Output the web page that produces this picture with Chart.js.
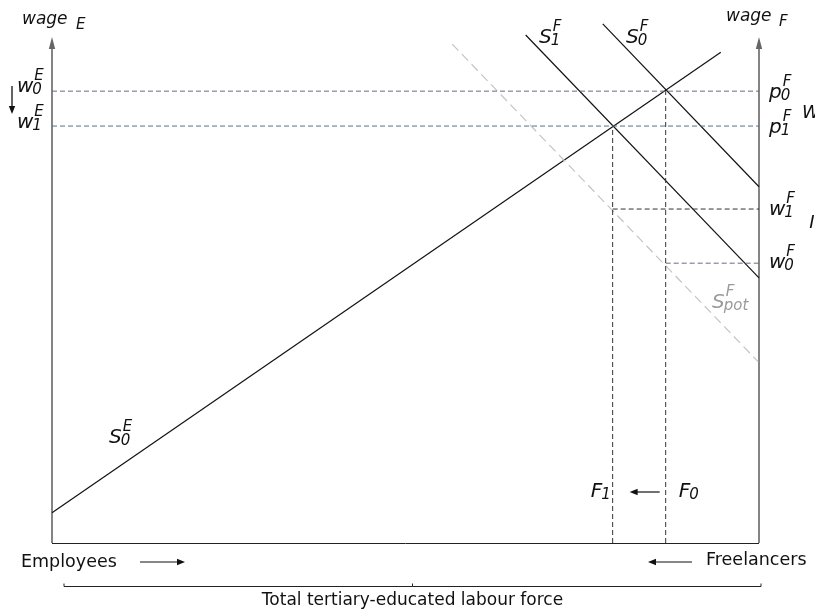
<!DOCTYPE html>
<html>
<head>
<meta charset="utf-8">
<script src="https://cdn.jsdelivr.net/npm/chart.js@4.4.1/dist/chart.umd.min.js"></script>
<style>
  html, body { margin: 0; padding: 0; background: #fff; }
  #wrap { width: 815px; height: 611px; }
</style>
</head>
<body>
<div id="wrap"><canvas id="c" width="815" height="611"></canvas></div>
<script>
// Labour market split: employees (left axis) vs freelancers (right axis).
// Units are abstract: x = share of labour force (0-100), y = wage level (0-100).
var employeeSupply0   = [{ x: 0, y: 6.0 }, { x: 94.6, y: 97.0 }];      // S0^E
var freelanceSupply0  = [{ x: 77.9, y: 102.6 }, { x: 100, y: 70.4 }];  // S0^F
var freelanceSupply1  = [{ x: 67.0, y: 100.4 }, { x: 100, y: 52.4 }];  // S1^F
var freelancePotential = [{ x: 56.6, y: 98.6 }, { x: 99.9, y: 35.8 }]; // S_pot^F
var freelancerCounts  = [86.8, 79.3];  // F0, F1
var priceLevels       = [89.3, 82.4];  // w0^E = p0^F, w1^E = p1^F
var freelanceWages    = [55.3, 66.0];  // w0^F, w1^F

var FONT = '"DejaVu Sans"';
var BLUE_DASH = '#5f6d84';
var DARK_DASH = '#333333';

function seg(a, b) { return [a, b]; }

function lineSet(data, color, width, dash) {
  return {
    data: data, showLine: true, borderColor: color, borderWidth: width,
    borderDash: dash || [], pointRadius: 0, clip: false, fill: false
  };
}

var datasets = [
  // equilibrium guides
  lineSet(seg({ x: 0, y: priceLevels[0] }, { x: 100, y: priceLevels[0] }), BLUE_DASH, 1, [5, 3]),
  lineSet(seg({ x: 0, y: priceLevels[1] }, { x: 100, y: priceLevels[1] }), BLUE_DASH, 1, [5, 3]),
  lineSet(seg({ x: freelancerCounts[0], y: 0 }, { x: freelancerCounts[0], y: priceLevels[0] }), DARK_DASH, 1, [5, 3]),
  lineSet(seg({ x: freelancerCounts[1], y: 0 }, { x: freelancerCounts[1], y: priceLevels[1] }), DARK_DASH, 1, [5, 3]),
  lineSet(seg({ x: freelancerCounts[0], y: freelanceWages[0] }, { x: 100, y: freelanceWages[0] }), BLUE_DASH, 1, [5, 3]),
  lineSet(seg({ x: freelancerCounts[1], y: freelanceWages[1] }, { x: 100, y: freelanceWages[1] }), DARK_DASH, 1, [5, 3]),
  // supply curves
  lineSet(freelancePotential, '#c4c4c4', 1.2, [9, 5]),
  lineSet(employeeSupply0, '#111', 1.2),
  lineSet(freelanceSupply0, '#111', 1.2),
  lineSet(freelanceSupply1, '#111', 1.2)
];

function arrow(ctx, x1, y1, x2, y2, color, head, lw) {
  var ang = Math.atan2(y2 - y1, x2 - x1);
  head = head || 8;
  ctx.save();
  ctx.strokeStyle = color; ctx.fillStyle = color; ctx.lineWidth = lw || 1.2;
  ctx.beginPath();
  ctx.moveTo(x1, y1);
  ctx.lineTo(x2 - Math.cos(ang) * head * 0.8, y2 - Math.sin(ang) * head * 0.8);
  ctx.stroke();
  ctx.beginPath();
  ctx.moveTo(x2, y2);
  ctx.lineTo(x2 - head * Math.cos(ang) + 3.2 * Math.sin(ang), y2 - head * Math.sin(ang) - 3.2 * Math.cos(ang));
  ctx.lineTo(x2 - head * Math.cos(ang) - 3.2 * Math.sin(ang), y2 - head * Math.sin(ang) + 3.2 * Math.cos(ang));
  ctx.closePath();
  ctx.fill();
  ctx.restore();
}

// base symbol with superscript / subscript, x = left edge, y = baseline
function sym(ctx, base, sup, sub, x, y, color, size) {
  size = size || 20;
  ctx.fillStyle = color || '#111';
  ctx.textAlign = 'left';
  ctx.textBaseline = 'alphabetic';
  ctx.font = 'oblique ' + size + 'px ' + FONT;
  ctx.fillText(base, x, y);
  var w = ctx.measureText(base).width;
  ctx.font = 'oblique ' + Math.round(size * 0.75) + 'px ' + FONT;
  if (sup) ctx.fillText(sup, x + w + 1, y - 12);
  if (sub) ctx.fillText(sub, x + w - 1, y + 2);
}

function plain(ctx, text, x, y, size, align) {
  ctx.fillStyle = '#111';
  ctx.textAlign = align || 'left';
  ctx.textBaseline = 'alphabetic';
  ctx.font = size + 'px ' + FONT;
  ctx.fillText(text, x, y);
}

var decor = {
  id: 'decor',
  beforeDatasetsDraw: function (chart) {
    var ctx = chart.ctx, xs = chart.scales.x, ys = chart.scales.y;
    var L = xs.getPixelForValue(0), R = xs.getPixelForValue(100);
    var B = ys.getPixelForValue(0), T = ys.getPixelForValue(100);
    ctx.save();
    // bottom axis
    ctx.strokeStyle = '#222'; ctx.lineWidth = 1;
    ctx.beginPath(); ctx.moveTo(L, B + 0.5); ctx.lineTo(R, B + 0.5); ctx.stroke();
    ctx.restore();
    // vertical wage axes with arrowheads
    arrow(ctx, L, B, L, T, '#666', 12, 1.6);
    arrow(ctx, R, B, R, T, '#666', 12, 1.6);
  },
  afterDatasetsDraw: function (chart) {
    var ctx = chart.ctx, xs = chart.scales.x, ys = chart.scales.y;
    var L = xs.getPixelForValue(0), R = xs.getPixelForValue(100);
    var f0 = xs.getPixelForValue(freelancerCounts[0]);
    var f1 = xs.getPixelForValue(freelancerCounts[1]);
    ctx.save();

    // axis titles
    ctx.fillStyle = '#111';
    ctx.font = 'oblique 17px ' + FONT;
    ctx.fillText('wage', 22, 24);
    ctx.fillText('wage', 726, 21);
    ctx.font = 'oblique 15px ' + FONT;
    ctx.fillText('E', 76, 29);
    ctx.fillText('F', 779, 26);

    // left axis wage labels + downward shift arrow
    sym(ctx, 'w', 'E', '0', L - 35, ys.getPixelForValue(priceLevels[0]) + 1);
    sym(ctx, 'w', 'E', '1', L - 35, ys.getPixelForValue(priceLevels[1]) + 2);
    arrow(ctx, 12, 86, 12, 114, '#111', 8, 1.3);

    // right axis labels
    sym(ctx, 'p', 'F', '0', R + 10, ys.getPixelForValue(priceLevels[0]) + 7);
    sym(ctx, 'p', 'F', '1', R + 10, ys.getPixelForValue(priceLevels[1]) + 7);
    sym(ctx, 'w', 'F', '1', R + 10, ys.getPixelForValue(freelanceWages[1]) + 6);
    sym(ctx, 'w', 'F', '0', R + 10, ys.getPixelForValue(freelanceWages[0]) + 5);

    // curve labels
    sym(ctx, 'S', 'F', '1', 539, 43);
    sym(ctx, 'S', 'F', '0', 626, 43);
    sym(ctx, 'S', 'F', 'pot', 712, 308, '#9a9a9a');
    sym(ctx, 'S', 'E', '0', 109, 443);

    // freelancer counts
    sym(ctx, 'F', null, '1', f1 - 22, 497);
    sym(ctx, 'F', null, '0', f0 + 13, 497);
    arrow(ctx, f0 - 6, 492, f1 + 17, 492, '#111', 8, 1.2);

    // bottom direction labels
    plain(ctx, 'Employees', 21, 567, 17.5);
    arrow(ctx, 140, 562, 185, 562, '#111', 8, 1.2);
    plain(ctx, 'Freelancers', 706, 565, 17.5);
    arrow(ctx, 692, 562, 648, 562, '#111', 8, 1.2);

    // bracket under the whole labour force
    var bl = 64, br = R + 2, by = 586.5, mid = (bl + br) / 2;
    ctx.strokeStyle = '#222'; ctx.lineWidth = 1;
    ctx.beginPath();
    ctx.moveTo(bl, by - 3); ctx.lineTo(bl, by); ctx.lineTo(br, by); ctx.lineTo(br, by - 3);
    ctx.moveTo(mid, by); ctx.lineTo(mid, by - 3);
    ctx.stroke();
    plain(ctx, 'Total tertiary-educated labour force', mid, 605, 17, 'center');

    // clipped glyphs at the right edge of the original figure
    ctx.fillStyle = '#111';
    ctx.font = 'oblique 18px ' + FONT;
    ctx.fillText('W', 811, 118);
    ctx.fillText('I', 812, 228);
    ctx.restore();
  }
};

new Chart(document.getElementById('c'), {
  type: 'scatter',
  data: { datasets: datasets },
  options: {
    responsive: false,
    animation: false,
    devicePixelRatio: 1,
    layout: { padding: { left: 52, right: 56, top: 37, bottom: 68 } },
    scales: {
      x: { type: 'linear', min: 0, max: 100, display: false },
      y: { type: 'linear', min: 0, max: 100, display: false }
    },
    plugins: { legend: { display: false }, tooltip: { enabled: false } }
  },
  plugins: [decor]
});
</script>
</body>
</html>
